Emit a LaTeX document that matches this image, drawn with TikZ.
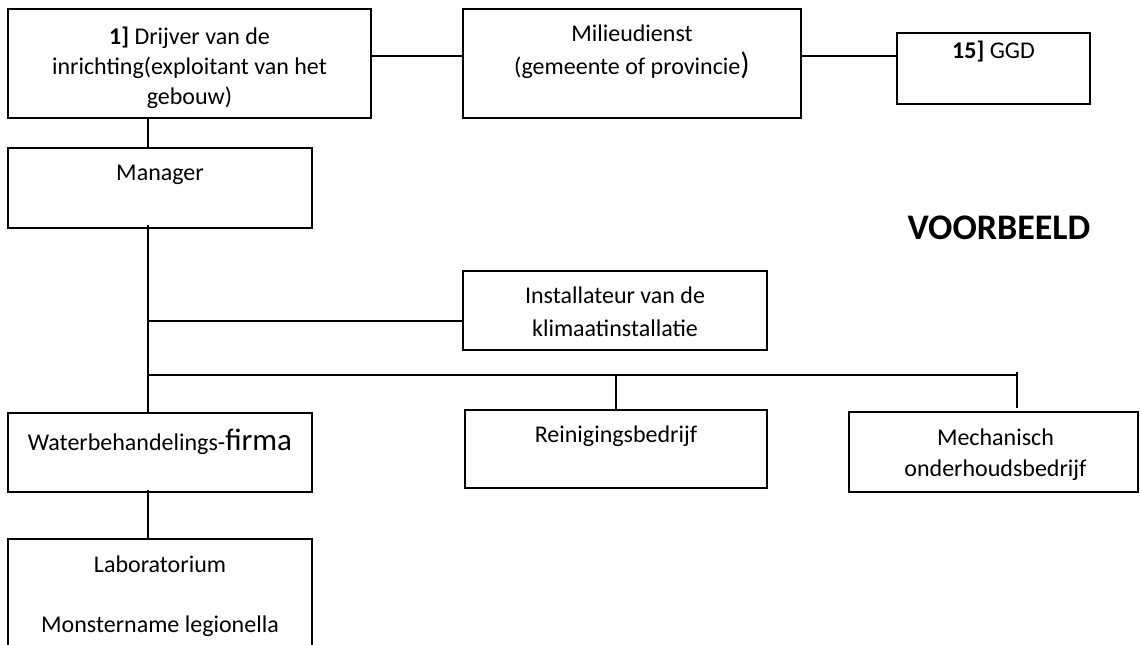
\documentclass[tikz,border=0pt]{standalone}
\usepackage{fontspec}
\setmainfont{Carlito}
\begin{document}
\begin{tikzpicture}[x=1pt,y=-1pt,
  box/.style={draw, line width=1.8pt, inner sep=0pt, outer sep=0pt, anchor=north west},
  txt/.style={anchor=base, inner sep=0pt, align=center, font=\fontsize{24}{30}\selectfont},
  conn/.style={line width=1.6pt}]
\useasboundingbox (0,0) rectangle (1141,645);
\clip (0,0) rectangle (1141,645);
% boxes
\node[box, minimum width=363pt, minimum height=109pt] (drijver) at (8,9) {};
\node[box, minimum width=338pt, minimum height=109pt] (milieu) at (463,9) {};
\node[box, minimum width=193pt, minimum height=71pt] (ggd) at (897,33) {};
\node[box, minimum width=304pt, minimum height=80pt] (manager) at (8,148) {};
\node[box, minimum width=304pt, minimum height=79pt] (install) at (463,271) {};
\node[box, minimum width=302pt, minimum height=78pt] (reinig) at (465,410) {};
\node[box, minimum width=289pt, minimum height=80pt] (mech) at (849,412) {};
\node[box, minimum width=304pt, minimum height=79pt] (water) at (8,413) {};
\node[box, minimum width=304pt, minimum height=140pt] (lab) at (8,539) {};
% texts (anchor = baseline of the last line)
\node[txt] (tdrijver) at ([yshift=-95pt]drijver.north) {\textbf{1]} Drijver van de\\inrichting(exploitant van het\\gebouw)};
\node[txt] (tmilieu) at ([yshift=-65pt]milieu.north) {Milieudienst\\[3pt](gemeente of provincie{\fontsize{31}{36}\selectfont )}};
\node[txt] (tggd) at ([yshift=-25pt]ggd.north) {\textbf{15]} GGD};
\node[txt] (tmanager) at ([yshift=-32pt]manager.north) {Manager};
\node[txt] (tinstall) at ([yshift=-65pt]install.north) {Installateur van de\\[3pt]klimaatinstallatie};
\node[txt] (treinig) at ([yshift=-32pt]reinig.north) {Reinigingsbedrijf};
\node[txt] (tmech) at ([yshift=-64pt,xshift=2pt]mech.north) {Mechanisch\\[1pt]onderhoudsbedrijf};
\node[txt] (twater) at ([yshift=-37pt]water.north) {Waterbehandelings-{\fontsize{31}{36}\selectfont firma}};
\node[txt] (tlab) at ([yshift=-93pt]lab.north) {Laboratorium\\[30pt]Monstername legionella};
\node[anchor=base, inner sep=0pt, font=\bfseries\fontsize{36}{40}\selectfont] (vb) at (999,239) {VOORBEELD};
% connectors
\coordinate (spine) at (148,0);
\coordinate (bus) at (0,375);
\coordinate (jm) at ([yshift=7.5pt]drijver.east);
\coordinate (jg) at ([yshift=7.5pt]milieu.east);
\coordinate (bi) at ([yshift=-10.5pt]install.west);
\coordinate (mtap) at ([xshift=23.5pt]mech.north);
\draw[conn] (jm) -- (jm -| milieu.west);
\draw[conn] (jg) -- (jg -| ggd.west);
\draw[conn] (drijver.south -| spine) -- (manager.north -| spine);
\draw[conn] ([yshift=3pt]manager.south -| spine) -- (water.north -| spine);
\draw[conn] ([yshift=2pt]water.south -| spine) -- (lab.north -| spine);
\draw[conn] (spine |- bi) -- (bi);
\draw[conn] (spine |- bus) -- (mtap |- bus);
\draw[conn] (reinig.north |- bus) -- (reinig.north);
\draw[conn] ([yshift=3pt]mtap |- bus) -- ([yshift=4pt]mtap);
\end{tikzpicture}
\end{document}
